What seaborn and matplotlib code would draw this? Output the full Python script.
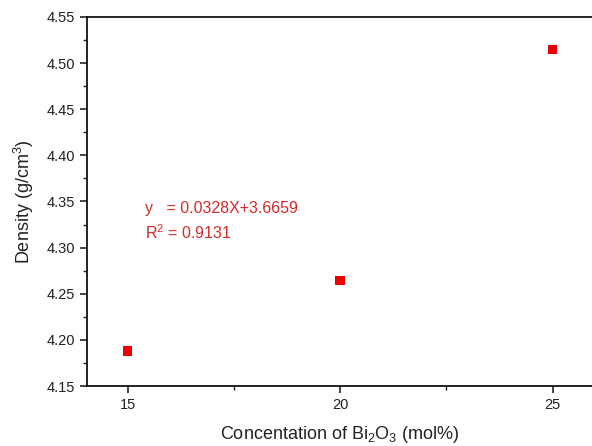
import matplotlib
matplotlib.use("Agg")
import matplotlib.pyplot as plt
import seaborn as sns
import pandas as pd
from matplotlib.ticker import MultipleLocator

# Data
concentration = [15, 20, 25]
density = [4.188, 4.264, 4.515]
fit_text = "y   = 0.0328X+3.6659"
r2_text = "R$^2$ = 0.9131"

df = pd.DataFrame({"conc": concentration, "density": density})

sns.set_theme(style="ticks")
plt.rcParams["font.family"] = ["Liberation Sans", "DejaVu Sans"]
plt.rcParams["mathtext.fontset"] = "custom"
plt.rcParams["mathtext.rm"] = "Liberation Sans"
plt.rcParams["mathtext.it"] = "Liberation Sans"

fig = plt.figure(figsize=(5.92, 4.46), dpi=100)
ax = fig.add_axes([0.147, 0.1345, 0.853, 0.8275])

sns.scatterplot(data=df, x="conc", y="density", marker="s", s=45,
                color="#ee0000", edgecolor="none", ax=ax)

ax.set_xlim(14.04, 25.93)
ax.set_ylim(4.15, 4.55)
ax.xaxis.set_major_locator(MultipleLocator(5))
ax.xaxis.set_minor_locator(MultipleLocator(2.5))
ax.yaxis.set_major_locator(MultipleLocator(0.05))
ax.yaxis.set_minor_locator(MultipleLocator(0.025))
ax.yaxis.set_major_formatter(plt.FormatStrFormatter("%.2f"))

ax.tick_params(which="major", direction="out", length=5, width=1.2,
               labelsize=10.5, colors="#222222")
ax.tick_params(which="minor", direction="out", length=3, width=1.0,
               colors="#222222")
for side in ["left", "bottom", "top"]:
    ax.spines[side].set_linewidth(1.3)
    ax.spines[side].set_color("#111111")
ax.spines["right"].set_visible(False)

ax.set_xlabel("Concentation of Bi$_2$O$_3$ (mol%)", fontsize=13, color="#222222", labelpad=9)
ax.set_ylabel("Density (g/cm$^3$)", fontsize=13, color="#222222", labelpad=8)

ax.text(15.4, 4.342, fit_text, color="#d42a2a", fontsize=11.5, va="center")
ax.text(15.4, 4.316, r2_text, color="#d42a2a", fontsize=11.5, va="center")

fig.savefig("out.png", dpi=100)
